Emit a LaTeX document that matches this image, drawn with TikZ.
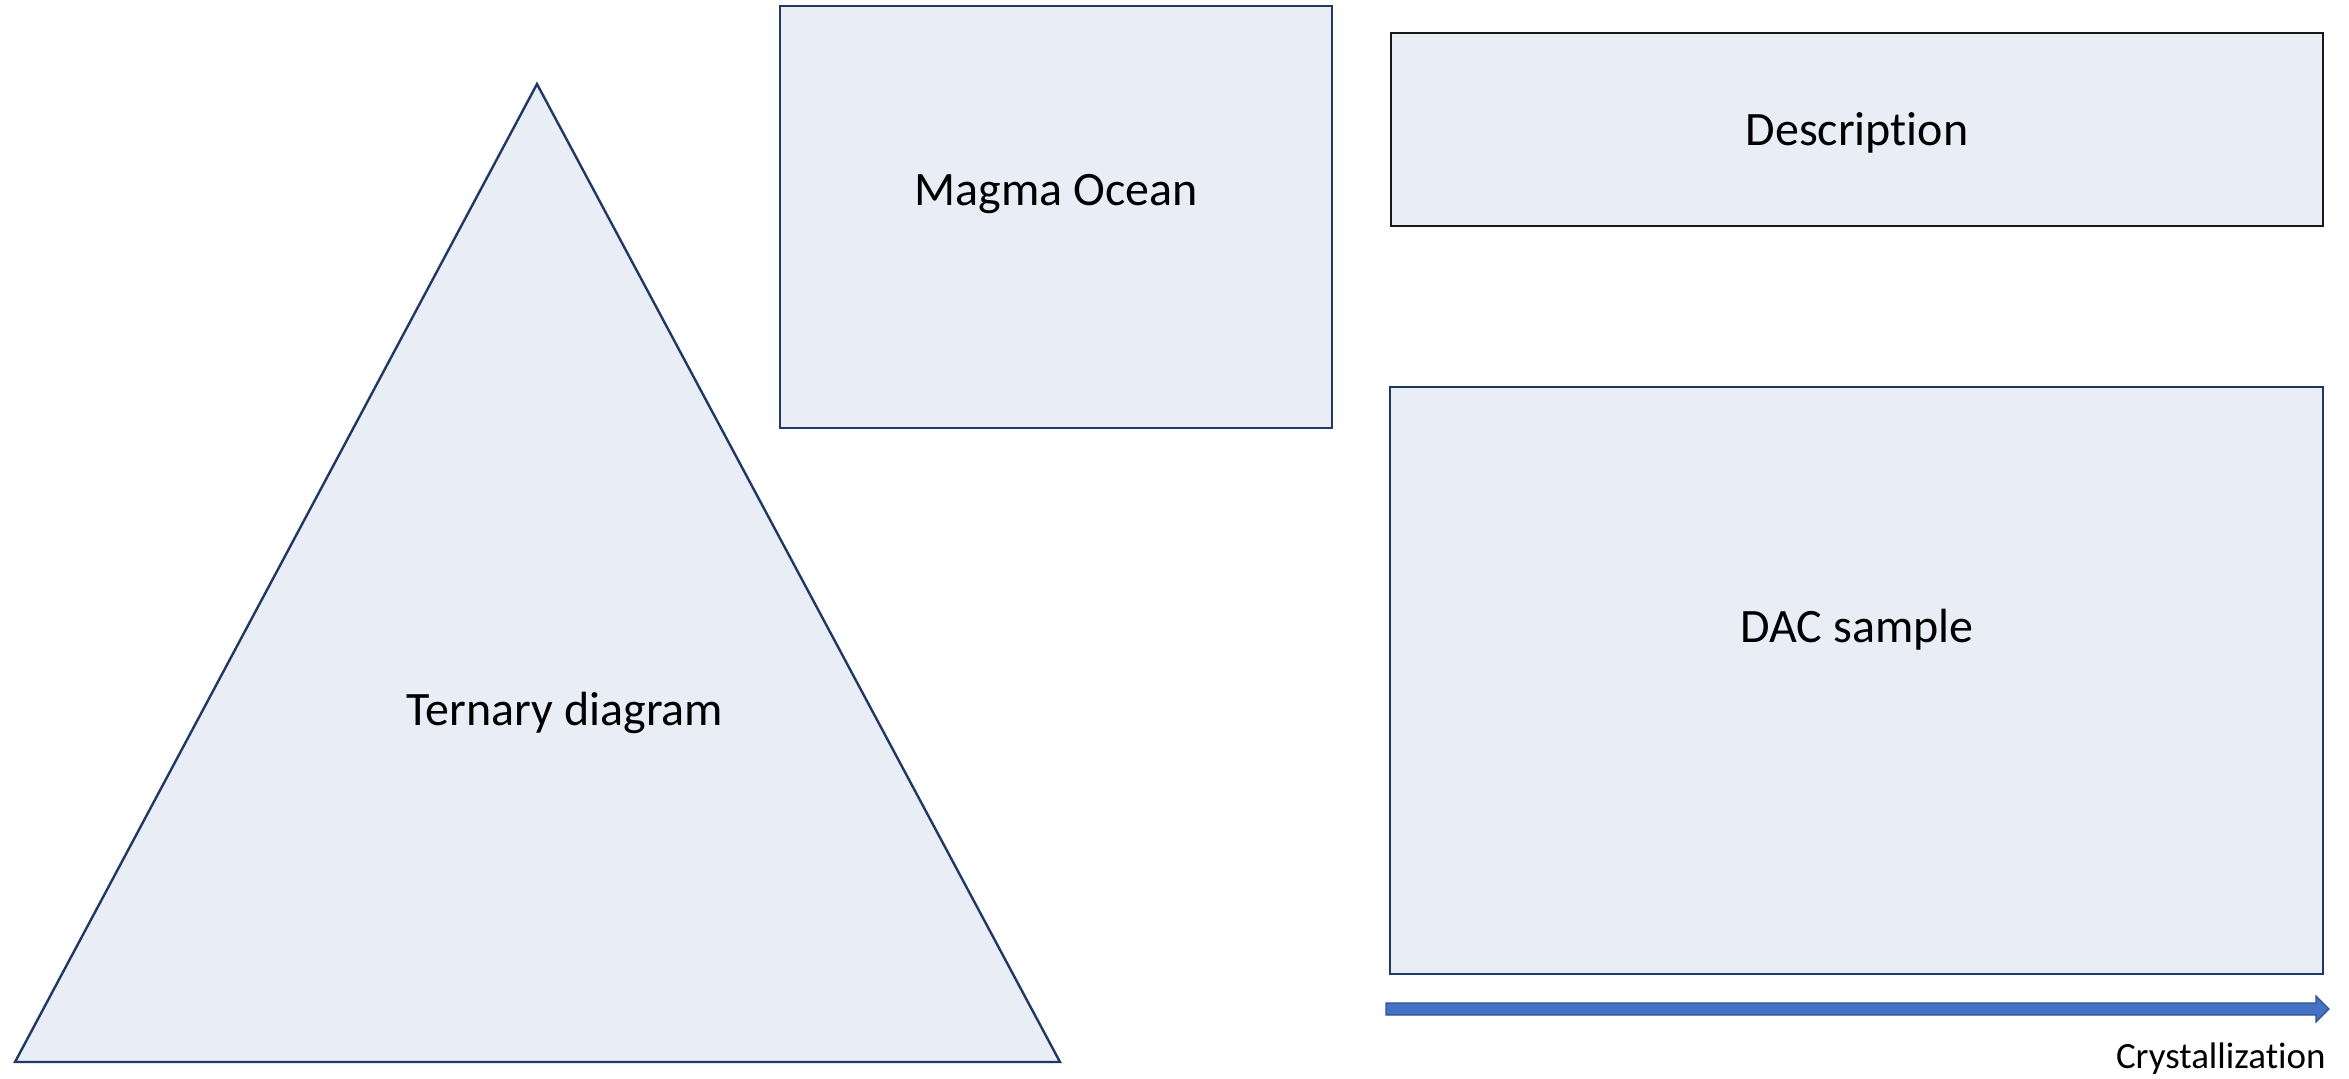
\documentclass[tikz,border=0pt]{standalone}
\usepackage{fontspec}
\setmainfont{Carlito}[Ligatures=NoCommon]
\definecolor{panelfill}{HTML}{E9EDF6}
\definecolor{panelline}{HTML}{1F3864}
\definecolor{arrowfill}{HTML}{4472C4}
\definecolor{arrowline}{HTML}{2F528F}
\begin{document}
\begin{tikzpicture}[x=0.5pt,y=-0.5pt,
  panel/.style={draw=panelline,fill=panelfill,line width=1.2pt},
  biglabel/.style={font=\fontsize{24}{28}\selectfont,inner sep=0pt},
  smalllabel/.style={font=\fontsize{18.5}{22}\selectfont,inner sep=0pt}]
\useasboundingbox (0,0) rectangle (2349,1078);
% ternary triangle
\coordinate (apex) at (537,84);
\coordinate (bl) at (15,1062);
\coordinate (br) at (1060,1062);
\draw[panel,line join=miter] (apex) -- (br) -- (bl) -- cycle;
\node[biglabel] (ternary) at (565,713) {Ternary diagram};
% magma ocean panel
\draw[panel] (780,6) rectangle (1332,428);
\node[biglabel] (magma) at (1056,194) {Magma Ocean};
% description panel
\draw[panel,draw=black!90] (1391,33) rectangle (2323,226);
\node[biglabel] (desc) at (1857,133) {Description};
% DAC sample panel
\draw[panel] (1390,387) rectangle (2323,974);
\node[biglabel] (dac) at (1857,630) {DAC sample};
% crystallization arrow
\coordinate (a0) at (1386,1003);
\coordinate (a1) at (2316,1003);
\coordinate (a2) at (2316,996);
\coordinate (tip) at (2329,1009);
\coordinate (a3) at (2316,1022);
\coordinate (a4) at (2316,1015);
\coordinate (a5) at (1386,1015);
\draw[draw=arrowline,fill=arrowfill,line width=0.6pt,line join=miter]
  (a0) -- (a1) -- (a2) -- (tip) -- (a3) -- (a4) -- (a5) -- cycle;
\node[smalllabel,anchor=base east] (cryst) at (2326,1068) {Crystallization};
\end{tikzpicture}
\end{document}
